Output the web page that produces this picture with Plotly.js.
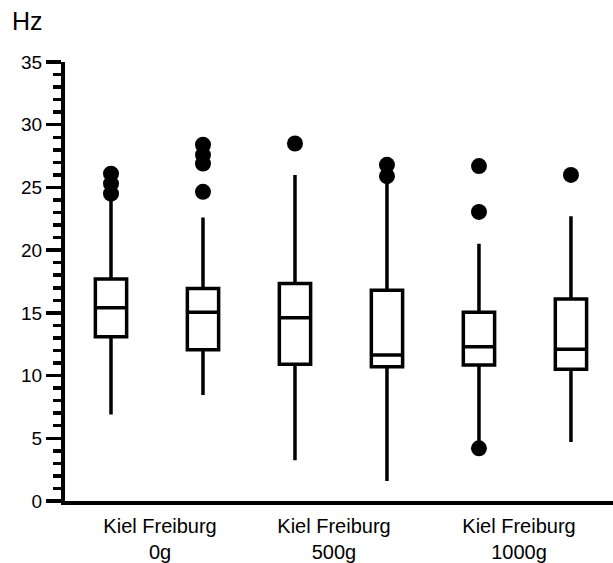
<!DOCTYPE html>
<html>
<head>
<meta charset="utf-8">
<script src="https://cdn.plot.ly/plotly-3.0.1.min.js"></script>
<style>html,body{margin:0;padding:0;background:#fff;}#chart{width:613px;height:563px;}</style>
</head>
<body>
<div id="chart"></div>
<script>
// Box positions (one per group/site)
const positions = [0, 1, 2, 3, 4, 5];
const q1 = [13.1, 12.05, 10.9, 10.7, 10.85, 10.5];
const medians = [15.4, 15.05, 14.6, 11.65, 12.3, 12.1];
const q3 = [17.7, 16.95, 17.35, 16.8, 15.05, 16.1];
const lowerFence = [6.9, 8.45, 3.25, 1.6, 4.5, 4.7];
const upperFence = [24.4, 22.6, 26.0, 25.8, 20.5, 22.7];

// Outliers
const outlierX = [0, 0, 0, 1, 1, 1, 1, 2, 3, 3, 4, 4, 4, 5];
const outlierY = [24.5, 25.3, 26.1, 24.65, 26.9, 27.6, 28.4, 28.5, 25.9, 26.8, 4.2, 23.05, 26.7, 26.0];

// Tick labels
const groupTickVals = [0.533, 2.424, 4.435];
const groupTickText = ['Kiel Freiburg<br>0g', 'Kiel Freiburg<br>500g', 'Kiel Freiburg<br>1000g'];
const yTickVals = [0, 5, 10, 15, 20, 25, 30, 35];

const FONT = '"Liberation Sans", Arial, sans-serif';

const data = [
  {
    type: 'box',
    x: positions,
    q1: q1,
    median: medians,
    q3: q3,
    lowerfence: lowerFence,
    upperfence: upperFence,
    boxpoints: false,
    width: 0.34,
    whiskerwidth: 0,
    fillcolor: 'white',
    line: {color: 'black', width: 3.5},
    hoverinfo: 'skip',
    showlegend: false
  },
  {
    type: 'scatter',
    mode: 'markers',
    x: outlierX,
    y: outlierY,
    marker: {color: 'black', size: 16, line: {width: 0}},
    hoverinfo: 'skip',
    showlegend: false,
    cliponaxis: false
  }
];

const layout = {
  width: 613,
  height: 563,
  margin: {l: 65, r: 0, t: 62, b: 62},
  paper_bgcolor: 'white',
  plot_bgcolor: 'white',
  font: {family: FONT, color: 'black'},
  showlegend: false,
  xaxis: {
    range: [-0.5, 5.457],
    tickmode: 'array',
    tickvals: groupTickVals,
    ticktext: groupTickText,
    ticks: '',
    ticklabelstandoff: 4,
    showgrid: false,
    zeroline: false,
    showline: true,
    linecolor: 'black',
    linewidth: 4,
    tickfont: {size: 20, family: FONT, color: 'black'},
    fixedrange: true
  },
  yaxis: {
    range: [0, 35],
    tickmode: 'array',
    tickvals: yTickVals,
    ticks: 'outside',
    ticklen: 15,
    tickwidth: 3.5,
    tickcolor: 'black',
    minor: {dtick: 1, ticks: 'outside', ticklen: 8, tickwidth: 3.5, tickcolor: 'black', showgrid: false},
    showgrid: false,
    zeroline: false,
    showline: true,
    linecolor: 'black',
    linewidth: 4,
    tickfont: {size: 19, family: FONT, color: 'black'},
    fixedrange: true
  },
  annotations: [
    {
      text: 'Hz',
      xref: 'paper', yref: 'paper',
      x: 0, y: 1,
      xanchor: 'left', yanchor: 'middle',
      xshift: -55, yshift: 41,
      showarrow: false,
      font: {size: 25, family: FONT, color: 'black'}
    }
  ]
};

Plotly.newPlot('chart', data, layout, {displayModeBar: false, staticPlot: true});
</script>
</body>
</html>
